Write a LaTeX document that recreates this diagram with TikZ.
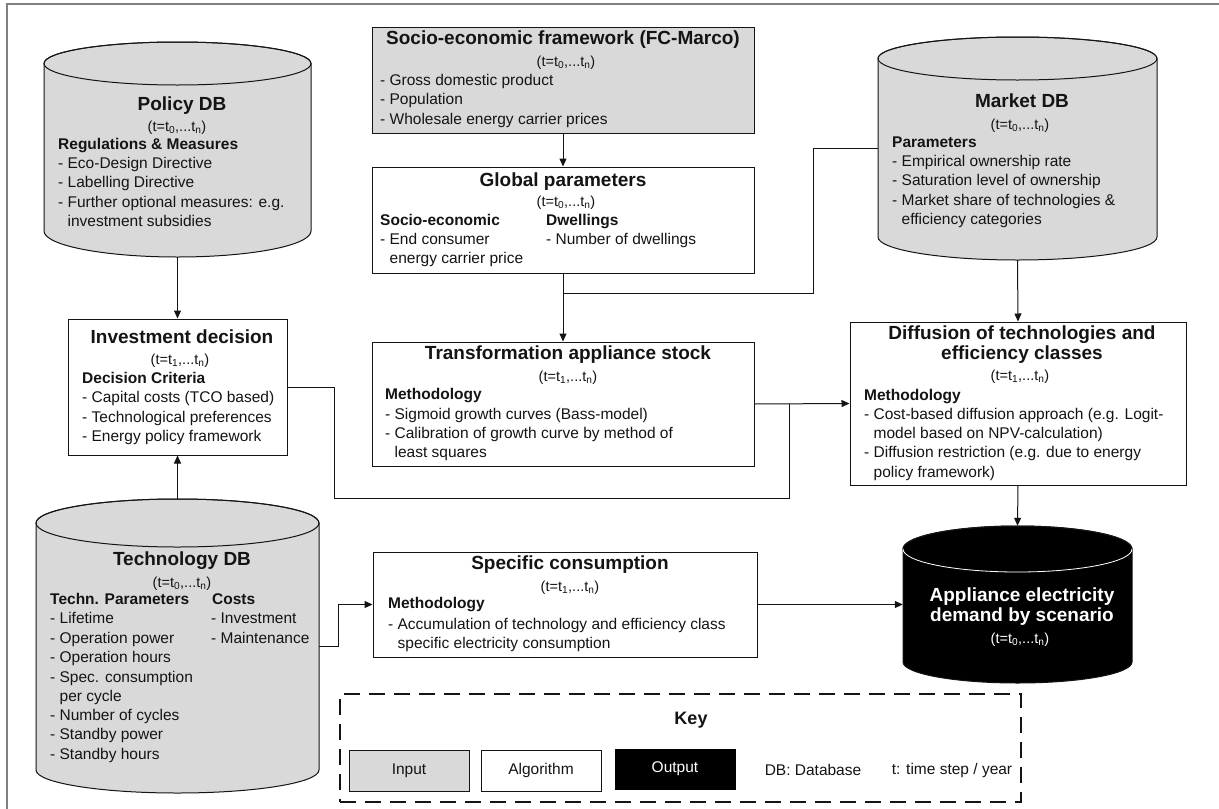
\documentclass[tikz,border=0pt]{standalone}
\usepackage{fontspec}
\setmainfont{Liberation Sans}
\usetikzlibrary{arrows.meta,calc}
\definecolor{ingray}{RGB}{217,217,217}
\definecolor{ink}{RGB}{20,20,20}
\definecolor{framegray}{RGB}{128,128,128}
\newcounter{lnc}
\newcommand\txtline[4][]{\stepcounter{lnc}\node[txt,#1] (L\arabic{lnc}) at (#2,#3) {#4};}
\newcommand\tsteps[1]{(t=t\textsubscript{#1},...t\textsubscript{n})}
% name, x1, x2, ytop-centre, rtop, ybottom-centre, rbottom, fill
\newcommand\dbcyl[8]{%
  \pgfmathsetmacro\cyla{(#3-#2)/2}%
  \pgfmathsetmacro\cylw{#3-#2}%
  \pgfmathsetmacro\cylcx{(#3+#2)/2}%
  \pgfmathsetmacro\cylh{(#6+#7)-(#4-#5)}%
  \pgfmathsetmacro\cylcy{((#6+#7)+(#4-#5))/2}%
  \path[fill=#8,draw=ink,line width=1pt] (#2,#4) -- (#2,#6)
     arc[start angle=180,end angle=360,x radius=\cyla pt,y radius=#7pt] -- (#3,#4)
     arc[start angle=0,end angle=180,x radius=\cyla pt,y radius=#5pt] -- cycle;
  \draw[ink,line width=1pt] (\cylcx,#4) ellipse[x radius=\cyla pt,y radius=#5pt];
  \node[inner sep=0,minimum width=\cylw pt,minimum height=\cylh pt] (#1) at (\cylcx,\cylcy) {};
}
\tikzset{
  txt/.style={anchor=base west,inner sep=0,font=\fontsize{15.5}{19}\selectfont,text=ink},
  hd/.style={font=\fontsize{15.5}{19}\selectfont\bfseries},
  ttl/.style={anchor=base,font=\fontsize{19}{22}\selectfont\bfseries},
  tm/.style={anchor=base,font=\fontsize{14.5}{17}\selectfont},
  box/.style={draw=ink,line width=1pt,fill=white,inner sep=0},
  inbox/.style={box,fill=ingray},
  conn/.style={draw=ink,line width=1pt},
  arr/.style={conn,-{Triangle[length=8pt,width=7pt]}},
  keytxt/.style={inner sep=0,font=\fontsize{15.5}{19}\selectfont,text=ink},
}
\begin{document}
\begin{tikzpicture}[x=1pt,y=-1pt]
\useasboundingbox (0,0) rectangle (1219,809);
\draw[framegray,line width=1.5pt] (7,809) -- (7,4) -- (1219,4);

% ---------- cylinders ----------
\dbcyl{policy}{44}{311}{63.5}{21.5}{231}{26}{ingray}
\dbcyl{market}{878}{1157}{58.5}{21.5}{237}{23}{ingray}
\dbcyl{tech}{36}{319}{523}{24}{770}{23}{ingray}
\dbcyl{appl}{903}{1132}{549}{23}{662}{21}{black}
\draw[white,line width=0.8pt] (903,549) arc[start angle=180,end angle=360,x radius=114.5pt,y radius=23pt];

% ---------- boxes ----------
\node[inbox,minimum width=382pt,minimum height=106pt] (socio) at (563,80) {};
\node[box,minimum width=382pt,minimum height=106pt] (glob) at (563,220) {};
\node[box,minimum width=382pt,minimum height=124pt] (trans) at (563,404) {};
\node[box,minimum width=219pt,minimum height=136pt] (invest) at (177.5,387) {};
\node[box,minimum width=336pt,minimum height=163pt] (diff) at (1018,403.5) {};
\node[box,minimum width=384pt,minimum height=105pt] (spec) at (565,604.5) {};

% ---------- connectors ----------
\coordinate (j1) at (563,293);
\coordinate (b1) at (813,148.5);
\coordinate (b2) at (334,387);
\coordinate (b3) at (334,498);
\coordinate (b4) at (789,498);
\coordinate (j2) at (789,404);
\coordinate (b5) at (338,646);
\draw[arr] (policy.south) -- (invest.north);
\draw[arr] (tech.north) -- (invest.south);
\draw[arr] (socio.south) -- (glob.north);
\draw[arr] (glob.south) -- (trans.north);
\draw[conn] (market.west) -- (b1) |- (j1);
\draw[arr] (market.south) -- (diff.north);
\draw[arr] (diff.south) -- (appl.north);
\draw[arr] (trans.east) -- (diff.west);
\draw[conn] (invest.east) -- (b2) -- (b3) -- (b4) -- (j2);
\draw[arr] (tech.east) -- (b5) |- (spec.west);
\draw[arr] (spec.east) -- (appl.west);

% ---------- Policy DB ----------
\txtline[ttl]{182}{110}{Policy DB}
\txtline[tm]{177}{131}{\tsteps{0}}
\txtline[hd]{58}{149}{Regulations \& Measures}
\txtline{58}{168}{- Eco-Design Directive}
\txtline{58}{187}{- Labelling Directive}
\txtline{58}{207}{- Further optional measures: e.g.}
\txtline{58}{226}{\phantom{- }investment subsidies}

% ---------- Socio-economic ----------
\txtline[ttl]{563}{44}{Socio-economic framework (FC-Marco)}
\txtline[tm]{566}{66}{\tsteps{0}}
\txtline{380}{85}{- Gross domestic product}
\txtline{380}{104}{- Population}
\txtline{380}{124}{- Wholesale energy carrier prices}

% ---------- Global parameters ----------
\txtline[ttl]{563}{186}{Global parameters}
\txtline[tm]{566}{206}{\tsteps{0}}
\txtline[hd]{380}{225}{Socio-economic}
\txtline[hd]{546}{225}{Dwellings}
\txtline{380}{244}{- End consumer}
\txtline{546}{244}{- Number of dwellings}
\txtline{380}{263}{\phantom{- }energy carrier price}

% ---------- Market DB ----------
\txtline[ttl]{1022}{107}{Market DB}
\txtline[tm]{1020}{129}{\tsteps{0}}
\txtline[hd]{892}{147}{Parameters}
\txtline{892}{166}{- Empirical ownership rate}
\txtline{892}{185}{- Saturation level of ownership}
\txtline{892}{205}{- Market share of technologies \&}
\txtline{892}{224}{\phantom{- }efficiency categories}

% ---------- Investment decision ----------
\txtline[ttl]{182}{343}{Investment decision}
\txtline[tm]{180}{364}{\tsteps{1}}
\txtline[hd]{82}{383}{Decision Criteria}
\txtline{82}{402}{- Capital costs (TCO based)}
\txtline{82}{422}{- Technological preferences}
\txtline{82}{441}{- Energy policy framework}

% ---------- Transformation ----------
\txtline[ttl]{568}{359}{Transformation appliance stock}
\txtline[tm]{568}{381}{\tsteps{1}}
\txtline[hd]{385}{399}{Methodology}
\txtline{385}{419}{- Sigmoid growth curves (Bass-model)}
\txtline{385}{438}{- Calibration of growth curve by method of}
\txtline{385}{457}{\phantom{- }least squares}

% ---------- Diffusion ----------
\txtline[ttl]{1022}{339}{Diffusion of technologies and}
\txtline[ttl]{1022}{359}{efficiency classes}
\txtline[tm]{1020}{380}{\tsteps{1}}
\txtline[hd]{864}{400}{Methodology}
\txtline{864}{419}{- Cost-based diffusion approach (e.g. Logit-}
\txtline{864}{438}{\phantom{- }model based on NPV-calculation)}
\txtline{864}{457}{- Diffusion restriction (e.g. due to energy}
\txtline{864}{477}{\phantom{- }policy framework)}

% ---------- Technology DB ----------
\txtline[ttl]{182}{565}{Technology DB}
\txtline[tm]{182}{587}{\tsteps{0}}
\txtline[hd]{50}{604}{Techn. Parameters}
\txtline[hd]{212}{604}{Costs}
\txtline{50}{623}{- Lifetime}
\txtline{211}{623}{- Investment}
\txtline{50}{643}{- Operation power}
\txtline{211}{643}{- Maintenance}
\txtline{50}{662}{- Operation hours}
\txtline{50}{682}{- Spec. consumption}
\txtline{50}{701}{\phantom{- }per cycle}
\txtline{50}{720}{- Number of cycles}
\txtline{50}{739}{- Standby power}
\txtline{50}{759}{- Standby hours}

% ---------- Specific consumption ----------
\txtline[ttl]{570}{569}{Specific consumption}
\txtline[tm]{570}{591}{\tsteps{1}}
\txtline[hd]{388}{608}{Methodology}
\txtline{388}{629}{- Accumulation of technology and efficiency class}
\txtline{388}{648}{\phantom{- }specific electricity consumption}

% ---------- Appliance demand ----------
\txtline[ttl,text=white]{1022}{601}{Appliance electricity}
\txtline[ttl,text=white]{1022}{621}{demand by scenario}
\txtline[tm,text=white]{1020}{643}{\tsteps{0}}

% ---------- Key ----------
\node[draw=ink,line width=2pt,dash pattern=on 16pt off 9pt,minimum width=681pt,minimum height=108pt,inner sep=0] (key) at (680.5,748) {};
\txtline[ttl,font=\fontsize{18}{21}\selectfont\bfseries]{691}{724}{Key}
\node[inbox,minimum width=120pt,minimum height=41pt,font=\fontsize{15.5}{19}\selectfont,text=ink] (kin) at (409,770.5) {Input};
\node[box,minimum width=120pt,minimum height=41pt,font=\fontsize{15.5}{19}\selectfont,text=ink] (kalg) at (541,770.5) {Algorithm};
\node[box,fill=black,draw=black,minimum width=120pt,minimum height=40pt,font=\fontsize{15.5}{19}\selectfont,text=white] (kout) at (675,769) {Output};
\node[keytxt] (kdb) at (813,770) {DB: Database};
\node[keytxt] (kt) at (952,770) {t: time step / year};
\end{tikzpicture}
\end{document}
